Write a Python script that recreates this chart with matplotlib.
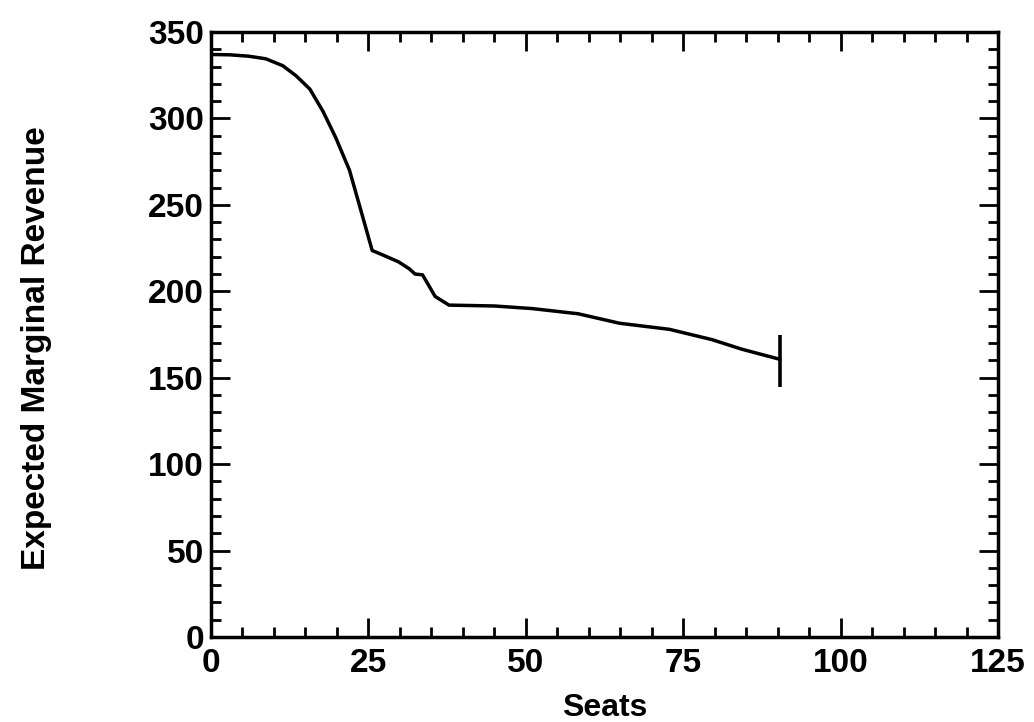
import matplotlib
matplotlib.use('Agg')
import matplotlib.pyplot as plt
from matplotlib.ticker import MultipleLocator

plt.rcParams['font.family'] = ['Liberation Sans', 'DejaVu Sans']
plt.rcParams['font.weight'] = 'bold'

# values
seats = [0, 3, 6, 8.7, 11.4, 13.5, 15.7, 17.8, 19.8, 22, 24.1, 25.6, 27.3, 29.8,
         31.5, 32.4, 33.6, 35.6, 37.8, 45, 51, 58.3, 64.9, 72.8, 79.6, 84.3, 90.3]
emr = [337, 336.8, 336, 334.5, 330.5, 324.7, 317, 304, 289, 270, 243, 223.6, 221, 217,
       213, 210, 209.5, 197, 192, 191.5, 190, 187, 181.5, 178, 172, 166.5, 160.7]
end_seat = [90.3]
end_low = [144.5]
end_high = [175]

fig = plt.figure(figsize=(10.34, 7.22), dpi=100)
ax = fig.add_axes([211/1034, 1-637/722, (998-211)/1034, (637-32)/722])

ax.plot(seats, emr, color='black', lw=2.5, solid_joinstyle='round')
ax.vlines(end_seat, end_low, end_high, color='black', lw=2.6)

ax.set_xlim(0, 125)
ax.set_ylim(0, 350)
ax.xaxis.set_major_locator(MultipleLocator(25))
ax.xaxis.set_minor_locator(MultipleLocator(5))
ax.yaxis.set_major_locator(MultipleLocator(50))
ax.yaxis.set_minor_locator(MultipleLocator(10))
ax.tick_params(which='both', direction='in', top=True, right=True, width=2, colors='black')
ax.tick_params(which='major', length=14, labelsize=24, pad=5)
ax.tick_params(axis='x', which='major', pad=8)
ax.tick_params(which='minor', length=7)
for s in ax.spines.values():
    s.set_linewidth(2.5)

ax.set_xlabel('Seats', fontsize=23, fontweight='bold')
ax.set_ylabel('Expected Marginal Revenue', fontsize=24, fontweight='bold')
ax.xaxis.set_label_coords(0.5, -0.092)
ax.yaxis.set_label_coords(-0.202, 0.478)

fig.savefig('out.png', dpi=100)
